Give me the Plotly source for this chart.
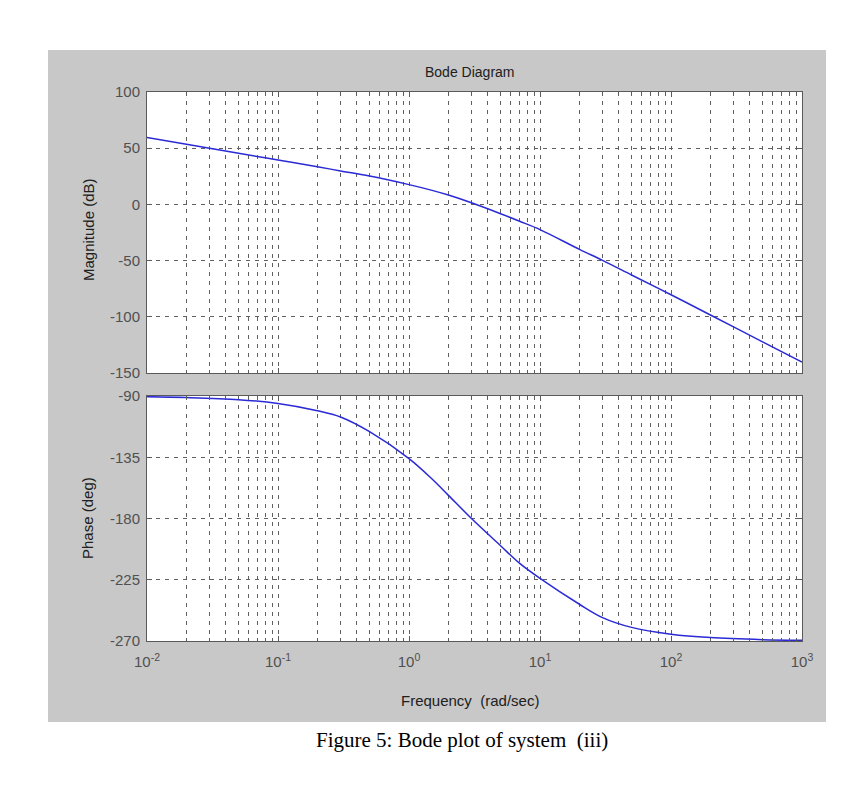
import plotly.graph_objects as go

# frequency points (rad/sec)
freq = [0.01, 0.02, 0.05, 0.1, 0.2, 0.3, 0.5, 1, 1.5, 2, 3, 5, 7, 10,
        20, 30, 50, 100, 200, 500, 1000]
# magnitude (dB)
mag = [59.5, 53.5, 45.5, 39.5, 33.5, 29.8, 25.2, 17.6, 12.5, 8.3, 1.4, -8.3, -15.0, -22.4,
       -40.0, -49.8, -62.8, -80.4, -98.4, -122.3, -140.3]
# phase (deg)
phase = [-90.5, -91.1, -92.7, -95.5, -100.8, -105.4, -116.2, -136.0, -151.0, -163.0, -180.0,
         -200.0, -213.0, -224.0, -243.0, -252.8, -260.0, -265.0, -267.5, -269.0, -269.5]

dec_vals = [0.01, 0.1, 1, 10, 100, 1000]
dec_text = ["10<sup>-2</sup>", "10<sup>-1</sup>", "10<sup>0</sup>",
            "10<sup>1</sup>", "10<sup>2</sup>", "10<sup>3</sup>"]
mag_ticks = [100, 50, 0, -50, -100, -150]
phase_ticks = [-90, -135, -180, -225, -270]

# the page puts the figure 8px in from the top-left corner
OFF = 8
W, H = 849 - OFF, 812 - OFF


def px(x):
    return (x - OFF) / W


def py(y):
    return (H - (y - OFF)) / H


font = "Liberation Sans, Arial, sans-serif"
grid_col = "#606060"
axis_col = "#5a5a5a"
text_col = "#505050"
minor_vals = [m * 10 ** e for e in range(-2, 3) for m in range(2, 10)]

fig = go.Figure()
fig.add_trace(go.Scatter(x=freq, y=mag, mode="lines", line=dict(color="#2a2ad6", width=1.5, shape="spline"),
                         xaxis="x", yaxis="y", showlegend=False))
fig.add_trace(go.Scatter(x=freq, y=phase, mode="lines", line=dict(color="#2a2ad6", width=1.5, shape="spline"),
                         xaxis="x2", yaxis="y2", showlegend=False))


def xax(domain, labels, anchor):
    return dict(type="log", range=[-2, 3], domain=domain, anchor=anchor, automargin=False,
                tickvals=dec_vals, ticktext=dec_text, showticklabels=labels,
                tickfont=dict(family=font, size=15, color=text_col), ticklabelstandoff=7,
                ticks="inside", ticklen=5, tickcolor=axis_col,
                showline=True, linecolor=axis_col, linewidth=1, mirror="ticks",
                showgrid=True, gridcolor=grid_col, griddash="4px,5px", gridwidth=1,
                minor=dict(tickvals=minor_vals, showgrid=True, gridcolor=grid_col,
                           griddash="4px,5px", gridwidth=1, ticks="inside", ticklen=3,
                           tickcolor=axis_col),
                zeroline=False)


def yax(domain, rng, tv, anchor):
    return dict(range=rng, domain=domain, anchor=anchor, automargin=False,
                tickvals=tv, ticktext=[str(v) for v in tv],
                tickfont=dict(family=font, size=15, color=text_col), ticklabelstandoff=3,
                ticks="inside", ticklen=5, tickcolor=axis_col,
                showline=True, linecolor=axis_col, linewidth=1, mirror="ticks",
                showgrid=True, gridcolor=grid_col, griddash="4px,5px", gridwidth=1,
                zeroline=False)


def label(text, x, y, size=15, angle=0, fam=font, col="#202020"):
    return dict(text=text, x=px(x), y=py(y), xref="paper", yref="paper",
                xanchor="center", yanchor="middle", showarrow=False, textangle=angle,
                font=dict(family=fam, size=size, color=col))


fig.update_layout(
    width=W, height=H,
    margin=dict(l=0, r=0, t=0, b=0, autoexpand=False),
    paper_bgcolor="white", plot_bgcolor="white",
    xaxis=xax([px(147), px(802)], False, "y"),
    yaxis=yax([py(373), py(92)], [-150, 100], mag_ticks, "x"),
    xaxis2=xax([px(147), px(802)], True, "y2"),
    yaxis2=yax([py(641), py(396)], [-270, -90], phase_ticks, "x2"),
    shapes=[
        dict(type="rect", xref="paper", yref="paper", x0=px(48), x1=px(826),
             y0=py(722), y1=py(50), fillcolor="#c8c8c8", line_width=0, layer="below"),
        dict(type="rect", xref="x domain", yref="y domain", x0=0, x1=1, y0=0, y1=1,
             fillcolor="white", line_width=0, layer="below"),
        dict(type="rect", xref="x2 domain", yref="y2 domain", x0=0, x1=1, y0=0, y1=1,
             fillcolor="white", line_width=0, layer="below"),
    ],
    annotations=[
        label("Bode Diagram", 470, 72, size=14),
        label("Magnitude (dB)", 88, 230, angle=-90),
        label("Phase (deg)", 88, 518, angle=-90),
        label("Frequency  (rad/sec)", 470, 700),
        label("Figure 5: Bode plot of system  (iii)", 462, 740, size=21,
              fam="Liberation Serif, Times New Roman, serif", col="black"),
    ],
)

fig.write_html("out.html")
